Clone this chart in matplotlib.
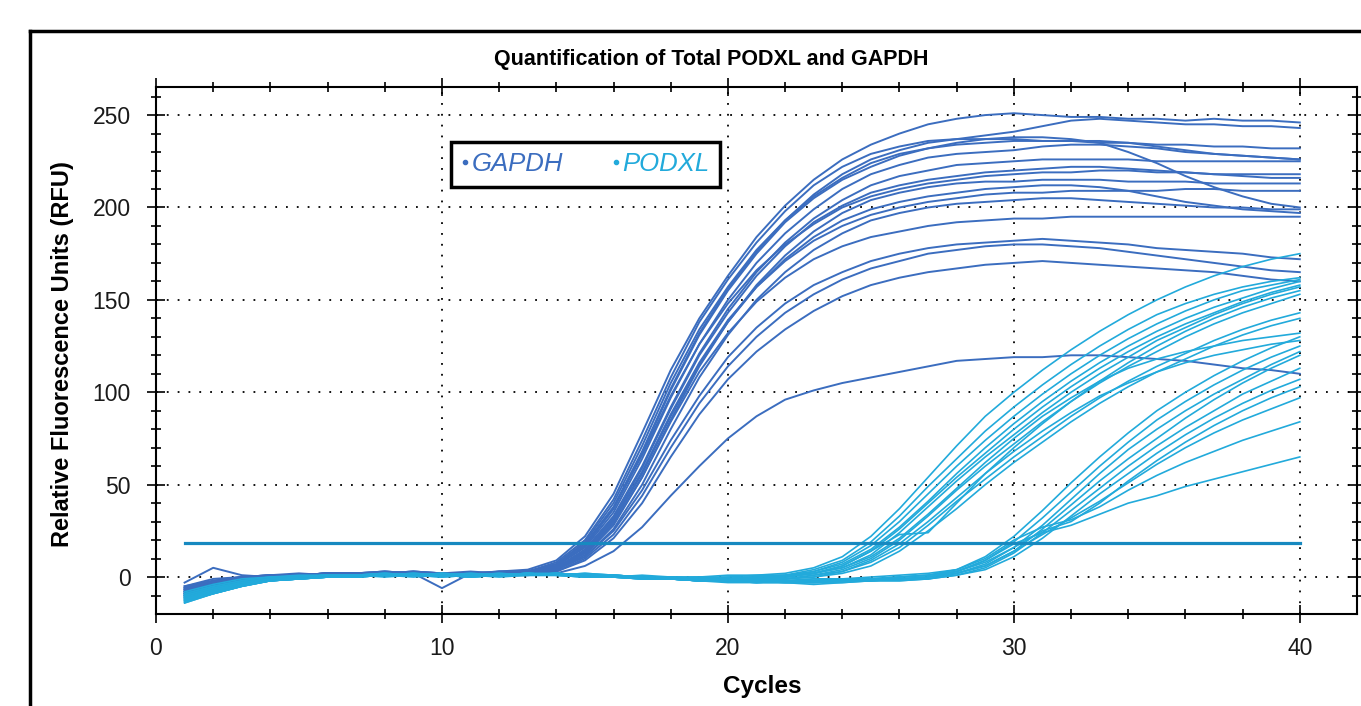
import numpy as np
import matplotlib.pyplot as plt
from matplotlib.lines import Line2D

plt.rcParams['font.family'] = ['Liberation Sans', 'DejaVu Sans']

# Cycle numbers and curve data (RFU)
cycles = list(range(1, 41))
threshold = 18.4

gapdh_rfu = [
    [-6,-2,0,1,2,1,2,3,2,1,2,3,4, 9,22,45,78,112,140,163,184,201,215,226,234,240,245,248,250,251,250,249,249,248,248,247,248,247,247,246],
    [-9,-4,-1,0,1,2,1,2,3,2,1,2,3, 7,18,38,68,102,132,156,176,193,207,218,226,231,235,237,239,241,244,247,248,247,246,245,245,244,244,243],
    [-3,5,1,0,1,2,2,1,2,2,3,2,3, 8,20,42,74,108,138,161,181,198,212,222,229,233,236,237,237,237,236,236,235,235,234,234,233,233,232,232],
    [-8,-5,-2,0,1,1,2,2,1,2,2,1,2, 6,16,35,64,97,126,150,170,186,199,210,218,223,227,229,230,231,233,234,234,233,232,230,229,228,227,226],
    [-10,-6,-2,-1,0,1,1,2,2,1,2,2,2, 5,15,33,60,92,121,145,165,181,194,204,212,217,220,223,224,225,226,226,226,226,225,225,225,225,225,225],
    [-7,-3,0,1,1,2,2,3,2,2,1,3,3, 6,17,37,66,98,126,148,166,180,191,200,206,210,213,215,217,218,219,219,220,220,219,219,218,218,218,218],
    [-11,-7,-3,-1,0,1,1,1,2,2,1,2,2, 4,12,28,54,85,114,138,158,174,187,197,204,208,211,213,214,214,215,215,215,214,214,214,213,213,213,213],
    [-5,-2,0,0,1,2,2,2,3,2,2,2,3, 5,14,31,57,88,116,139,157,171,182,190,196,200,203,205,207,208,208,209,209,209,209,210,210,209,209,209],
    [-8,-4,-1,0,0,1,2,1,2,1,2,2,2, 4,11,26,50,80,108,131,150,165,177,186,193,197,200,202,203,204,205,205,204,203,202,201,200,200,199,199],
    [-6,-3,-1,1,1,2,1,2,2,-6,2,2,3, 5,13,29,54,84,111,132,149,162,172,179,184,187,190,192,193,194,194,195,195,195,195,195,195,195,195,195],
    [-9,-5,-2,0,1,1,2,2,2,2,1,2,2, 4,11,25,47,74,98,119,135,148,158,165,171,175,178,180,181,182,183,182,181,180,178,177,176,175,173,172],
    [-7,-4,-1,0,1,1,1,2,2,2,2,1,2, 3,10,23,44,70,94,114,130,143,153,161,167,171,175,177,179,180,180,179,178,176,174,172,170,168,166,165],
    [-10,-6,-3,-1,0,1,1,1,2,1,2,2,2, 3,9,21,40,65,88,107,122,134,144,152,158,162,165,167,169,170,171,170,169,168,167,166,165,163,161,160],
    [-5,-1,0,1,1,2,2,2,3,2,2,3,3, 6,17,37,67,101,131,155,175,192,205,215,222,228,232,235,237,238,238,237,235,230,224,217,211,206,202,200],
    [-8,-4,-1,0,1,2,1,2,2,2,2,2,3, 5,14,32,59,91,120,143,163,179,192,201,208,212,215,217,219,220,221,222,222,221,220,219,218,217,216,216],
    [-6,-3,-1,0,1,1,2,2,2,2,1,2,2, 4,13,30,56,87,115,138,157,172,184,193,199,203,206,208,210,211,212,212,211,209,206,203,201,199,198,197],
    [-7,-3,0,1,1,2,2,3,2,2,2,2,3, 7,19,40,71,105,134,157,177,193,206,216,224,229,232,234,235,236,236,236,236,235,233,231,229,228,227,226],
    [-9,-5,-2,0,0,1,1,1,1,2,1,1,1, 2,6,14,27,44,60,75,87,96,101,105,108,111,114,117,118,119,119,120,120,119,118,117,115,113,112,110],
]

podxl_rfu = [
    # earlier group
    [-11,-7,-3,-1,0,1,1,0,1,2,1,1,2,2,1,0,1,0,0,1,1, 2,5,11,22,37,54,71,87,100,112,123,133,142,150,157,163,168,172,175],
    [-13,-8,-4,-2,-1,0,1,1,2,1,0,1,1,2,1,1,0,-1,0,0,0, 1,4,9,19,33,49,64,79,92,104,115,125,134,142,148,153,157,160,162],
    [-9,-5,-2,0,0,1,0,1,1,1,1,2,1,1,2,1,0,0,-1,0,1, 1,3,8,17,30,45,60,74,87,99,110,120,129,137,144,150,155,158,161],
    [-12,-8,-4,-1,0,0,1,1,1,0,1,1,2,1,1,0,0,-1,-1,-1,0, 0,3,7,15,27,41,56,70,83,95,106,116,125,133,140,146,151,156,160],
    [-10,-6,-3,-1,0,1,1,2,1,1,0,1,2,1,1,1,0,0,-1,-1,-1, 0,2,6,14,26,40,54,67,80,92,103,113,122,130,137,143,149,154,158],
    [-14,-9,-5,-2,-1,0,0,1,1,1,1,1,1,2,1,0,0,-1,-2,-1,0, 1,2,5,12,24,38,52,65,77,89,100,110,119,128,135,142,148,153,157],
    [-8,-4,-1,0,1,1,1,2,1,1,2,1,1,1,2,1,0,0,0,-1,0, 0,2,6,14,23,24,40,56,70,83,95,106,116,125,133,140,146,151,155],
    [-12,-7,-3,-1,0,0,1,1,1,1,1,0,1,2,1,1,0,-1,-1,-2,-1, -1,1,4,10,20,33,47,60,72,84,95,105,114,122,130,137,143,148,153],
    [-11,-7,-4,-2,-1,0,1,1,1,2,1,1,1,1,0,0,-1,-1,-2,-2,-1, -1,0,3,8,16,28,41,53,65,76,87,97,106,114,121,128,134,139,143],
    [-13,-9,-5,-2,0,0,1,1,0,1,1,1,2,1,1,0,-1,-1,-2,-2,-2, -1,0,2,6,14,25,37,50,62,73,84,94,103,111,118,125,131,136,140],
    [-10,-6,-3,-1,0,1,1,1,2,1,1,1,1,1,1,0,0,0,-1,-1,0, 0,2,5,11,21,34,48,62,75,87,97,106,113,118,122,125,128,130,132],
    [-12,-8,-4,-2,-1,0,0,1,1,1,0,1,1,1,1,0,0,-1,-1,-2,-1, -1,1,3,9,18,30,43,56,68,79,89,98,105,111,116,120,123,126,128],
    # later group
    [-12,-8,-4,-2,0,0,1,1,1,1,2,1,1,1,1,0,0,-1,-1,-2,-2,-2,-1,-1,-1,0,1, 4,11,22,36,51,65,78,90,100,109,117,124,130],
    [-10,-6,-3,-1,0,1,1,1,2,1,1,1,2,1,1,0,0,-1,-2,-2,-3,-2,-2,-2,-1,-1,0, 3,9,19,32,46,60,73,85,95,104,112,119,125],
    [-13,-9,-5,-2,-1,0,0,1,1,1,1,1,1,2,1,1,0,-1,-1,-2,-3,-3,-3,-2,-2,-1,0, 2,7,16,28,42,56,69,80,90,99,107,115,122],
    [-11,-7,-3,-1,0,0,1,1,1,0,1,2,1,1,1,0,-1,-1,-2,-2,-2,-3,-3,-2,-2,-1,-1, 2,6,14,26,39,52,64,75,86,96,105,113,120],
    [-14,-9,-5,-2,-1,0,1,1,1,1,1,1,1,1,1,0,0,-1,-2,-3,-3,-3,-4,-3,-2,-2,-1, 1,5,13,24,36,48,60,71,81,90,99,106,113],
    [-9,-5,-2,0,0,1,1,2,1,1,1,1,2,1,1,0,0,-1,-1,-2,-2,-2,-3,-3,-2,-2,-1, 1,4,11,21,33,45,56,67,77,86,94,101,107],
    [-12,-8,-4,-1,0,1,1,1,1,1,0,1,1,1,0,0,-1,-1,-2,-2,-3,-2,-2,-1,-1,0,1, 3,8,16,25,30,40,52,63,73,82,90,97,103],
    [-13,-8,-4,-2,-1,0,0,1,1,1,1,1,1,1,1,0,0,-1,-1,-2,-2,-3,-2,-2,-2,-1,0, 2,6,14,23,32,41,51,61,70,78,85,91,97],
    [-10,-6,-3,-1,0,0,1,1,1,2,1,1,1,1,1,0,0,-1,-2,-2,-2,-2,-1,-1,0,1,2, 4,10,20,27,31,38,47,55,62,68,74,79,84],
    [-11,-7,-3,-1,0,1,1,1,1,1,1,1,1,1,0,0,-1,-1,-2,-2,-2,-2,-2,-1,-1,0,1, 3,9,18,24,28,34,40,44,49,53,57,61,65],
]

gapdh_color = '#3b6dbf'
podxl_color = '#22aadb'
thresh_color = '#1789c0'

fig = plt.figure(figsize=(13.61, 7.06), dpi=100)
ax = fig.add_axes([156/1361, 1 - 614/706, (1357 - 156)/1361, (614 - 87)/706])

for y in gapdh_rfu:
    ax.plot(cycles, y, color=gapdh_color, lw=1.4)
for y in podxl_rfu:
    ax.plot(cycles, y, color=podxl_color, lw=1.2)
ax.plot([cycles[0], cycles[-1]], [threshold, threshold], color=thresh_color, lw=2.3)

ax.set_xlim(0, 42)
ax.set_ylim(-20, 265.2)
ax.set_xticks([0, 10, 20, 30, 40])
ax.set_xticks(np.arange(0, 42, 2), minor=True)
ax.set_yticks([0, 50, 100, 150, 200, 250])
ax.set_yticks(np.arange(-10, 265, 10), minor=True)
ax.tick_params(which='both', direction='inout', top=True, right=True,
               labeltop=False, labelright=False, labelsize=16.5, width=1.2,
               labelcolor='#1a1a1a')
ax.tick_params(which='major', length=13)
ax.tick_params(which='minor', length=7)
ax.tick_params(axis='y', pad=11.5)
ax.tick_params(axis='x', pad=10)
for s in ax.spines.values():
    s.set_linewidth(1.5)
ax.grid(which='major', color='black', linestyle=(0, (1, 5)), linewidth=1.3)

# legend box
handles = [Line2D([], [], marker='o', markersize=3, linestyle='', color=gapdh_color),
           Line2D([], [], marker='o', markersize=3, linestyle='', color=podxl_color)]
leg = ax.legend(handles, ['GAPDH', 'PODXL'], loc='upper left',
                bbox_to_anchor=((451 - 156)/1201, (614 - 142)/527), borderaxespad=0,
                ncol=2, handlelength=0.3, handletextpad=0.1, columnspacing=1.9,
                labelcolor='linecolor', fancybox=False, edgecolor='black',
                framealpha=1, borderpad=0.4,
                prop={'style': 'italic', 'size': 18.5})
leg.get_frame().set_linewidth(2.5)

fig.text(711/1361, 1 - 60/706, 'Quantification of Total PODXL and GAPDH',
         ha='center', va='center', fontsize=15.5, fontweight='bold')
fig.text(62/1361, 1 - 354/706, 'Relative Fluorescence Units (RFU)', rotation=90,
         ha='center', va='center', fontsize=17, fontweight='bold')
fig.text(762/1361, 1 - 687/706, 'Cycles', ha='center', va='center',
         fontsize=17.5, fontweight='bold')

# outer frame
fig.add_artist(Line2D([30/1361, 30/1361], [0, 1 - 31/706], transform=fig.transFigure,
                      color='black', lw=2.5))
fig.add_artist(Line2D([30/1361, 1], [1 - 31/706, 1 - 31/706], transform=fig.transFigure,
                      color='black', lw=2.5))

fig.savefig('out.png', dpi=100)
